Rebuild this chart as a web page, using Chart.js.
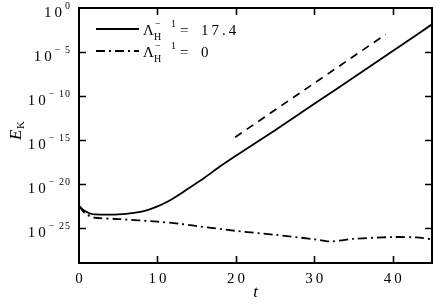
<!DOCTYPE html>
<html>
<head>
<meta charset="utf-8">
<script src="https://cdn.jsdelivr.net/npm/chart.js@4.4.1/dist/chart.umd.min.js"></script>
<style>
html,body{margin:0;padding:0;background:#fff;}
canvas{display:block;}
</style>
</head>
<body>
<canvas id="c" width="436" height="308"></canvas>
<script>
// ---- data ----
const tHall = [0, 0.5, 1, 1.5, 2, 3, 4, 5, 6, 7, 8, 9, 10, 11, 12, 13, 14, 16, 18, 20, 25, 30, 35, 40, 45];
const eHall = [3.16e-23, 1.12e-23, 6.3e-24, 4.0e-24, 3.3e-24, 3.16e-24, 3.2e-24, 3.4e-24, 3.9e-24, 5.0e-24, 7.1e-24, 1.26e-23, 2.8e-23, 7.1e-23, 2.2e-22, 7.9e-22, 3.2e-21, 5.0e-20, 1.0e-18, 1.6e-17, 1.26e-14, 1.26e-11, 1.26e-8, 1.26e-5, 1.4e-2];

const tGuide = [19.9, 39.1];
const eGuide = [2.0e-15, 1.0e-3];

const tNoHall = [0, 0.5, 1, 1.5, 2, 5, 10, 13, 15, 20, 25, 30, 32, 35, 40, 43, 45];
const eNoHall = [3.16e-23, 7.9e-24, 3.16e-24, 2.0e-24, 1.4e-24, 1.0e-24, 5.0e-25, 2.8e-25, 1.6e-25, 4.5e-26, 1.6e-26, 5.0e-27, 2.8e-27, 5.6e-27, 8.9e-27, 8.0e-27, 5.0e-27];

const xTickValues = [0, 10, 20, 30, 40];
const yTickExponents = [0, -5, -10, -15, -20, -25];
const legendValues = ['17.4', '0'];

// ---- helpers ----
function pts(xs, ys){ return xs.map((x,i)=>({x:x, y:ys[i]})); }
const SERIF = '"Liberation Serif", "DejaVu Serif", serif';

const axesPlugin = {
  id: 'axesPlugin',
  afterDraw(chart){
    const ctx = chart.ctx, a = chart.chartArea;
    const xs = chart.scales.x, ys = chart.scales.y;
    ctx.save();
    // frame
    ctx.strokeStyle = '#000';
    ctx.lineWidth = 2;
    ctx.strokeRect(a.left, a.top, a.right - a.left, a.bottom - a.top);
    // inward ticks
    ctx.lineWidth = 1.6;
    const TL = 7;
    xTickValues.forEach(v=>{
      const px = Math.round(xs.getPixelForValue(v)) + 0.5;
      if (v === 0) return;
      ctx.beginPath();
      ctx.moveTo(px, a.bottom); ctx.lineTo(px, a.bottom - TL);
      ctx.moveTo(px, a.top); ctx.lineTo(px, a.top + TL);
      ctx.stroke();
    });
    yTickExponents.forEach(e=>{
      const py = Math.round(ys.getPixelForValue(Math.pow(10, e))) + 0.5;
      if (e === 0) return;
      ctx.beginPath();
      ctx.moveTo(a.left, py); ctx.lineTo(a.left + TL, py);
      ctx.moveTo(a.right, py); ctx.lineTo(a.right - TL, py);
      ctx.stroke();
    });
    ctx.fillStyle = '#000';
    // x tick labels
    ctx.font = '15px ' + SERIF;
    ctx.letterSpacing = '3px';
    ctx.textAlign = 'center';
    ctx.textBaseline = 'alphabetic';
    xTickValues.forEach(v=>{
      const px = xs.getPixelForValue(v);
      ctx.fillText(String(v), px + 1.5, a.bottom + 20);
    });
    // y tick labels: 10^e
    yTickExponents.forEach(e=>{
      const py = ys.getPixelForValue(Math.pow(10, e));
      const expStr = e === 0 ? '0' : '\u2212 ' + String(-e);
      ctx.textAlign = 'right';
      ctx.font = '10px ' + SERIF;
      ctx.letterSpacing = '1px';
      const right = a.left - 8;
      ctx.fillText(expStr, right, py + 1);
      const ew = ctx.measureText(expStr).width;
      ctx.font = '15px ' + SERIF;
      ctx.letterSpacing = '3px';
      ctx.fillText('10', right - ew, py + 9);
    });
    ctx.letterSpacing = '0px';
    // x title
    ctx.textAlign = 'center';
    ctx.font = 'italic 17px ' + SERIF;
    ctx.fillText('t', (a.left + a.right) / 2, 297);
    // y title: E_K rotated
    ctx.save();
    ctx.translate(21, 140);
    ctx.rotate(-Math.PI / 2);
    ctx.textAlign = 'left';
    ctx.font = 'italic 17px ' + SERIF;
    ctx.fillText('E', 0, 0);
    const Ew = ctx.measureText('E').width;
    ctx.font = '11px ' + SERIF;
    ctx.fillText('K', Ew + 0.5, 3);
    ctx.restore();
    // legend
    const rows = [chart.data.datasets[0], chart.data.datasets[2]];
    rows.forEach((ds, i)=>{
      const ly = 29 + 22 * i;
      ctx.save();
      ctx.strokeStyle = ds.borderColor;
      ctx.lineWidth = ds.borderWidth;
      ctx.setLineDash(ds.borderDash || []);
      ctx.beginPath();
      ctx.moveTo(96, ly); ctx.lineTo(139, ly);
      ctx.stroke();
      ctx.restore();
      ctx.textAlign = 'left';
      ctx.font = '15px ' + SERIF;
      ctx.fillText('\u039B', 143, ly + 6);
      ctx.font = '10px ' + SERIF;
      ctx.fillText('H', 154, ly + 11);
      ctx.fillText('\u2212', 155, ly - 2);
      ctx.fillText('1', 171, ly - 2);
      ctx.font = '15px ' + SERIF;
      ctx.fillText('=', 180, ly + 6);
      ctx.letterSpacing = '3px';
      ctx.fillText(legendValues[i], 201, ly + 6);
      ctx.letterSpacing = '0px';
    });
    ctx.restore();
  }
};

new Chart(document.getElementById('c'), {
  type: 'line',
  data: {
    datasets: [
      { label: '\u039B_H^-1 = 17.4', data: pts(tHall, eHall), borderColor: '#000', borderWidth: 1.8, pointRadius: 0, tension: 0.3, fill: false },
      { label: 'guide', data: pts(tGuide, eGuide), borderColor: '#000', borderWidth: 1.7, borderDash: [8, 6], pointRadius: 0, tension: 0, fill: false },
      { label: '\u039B_H^-1 = 0', data: pts(tNoHall, eNoHall), borderColor: '#000', borderWidth: 1.8, borderDash: [9, 4, 2, 4], pointRadius: 0, tension: 0.3, fill: false }
    ]
  },
  options: {
    responsive: false,
    animation: false,
    devicePixelRatio: 1,
    layout: { padding: { left: 79, right: 4, top: 8, bottom: 45 } },
    plugins: { legend: { display: false }, tooltip: { enabled: false } },
    scales: {
      x: { type: 'linear', min: 0, max: 45, display: false },
      y: { type: 'logarithmic', min: 1e-29, max: 1, display: false }
    }
  },
  plugins: [axesPlugin]
});
</script>
</body>
</html>
